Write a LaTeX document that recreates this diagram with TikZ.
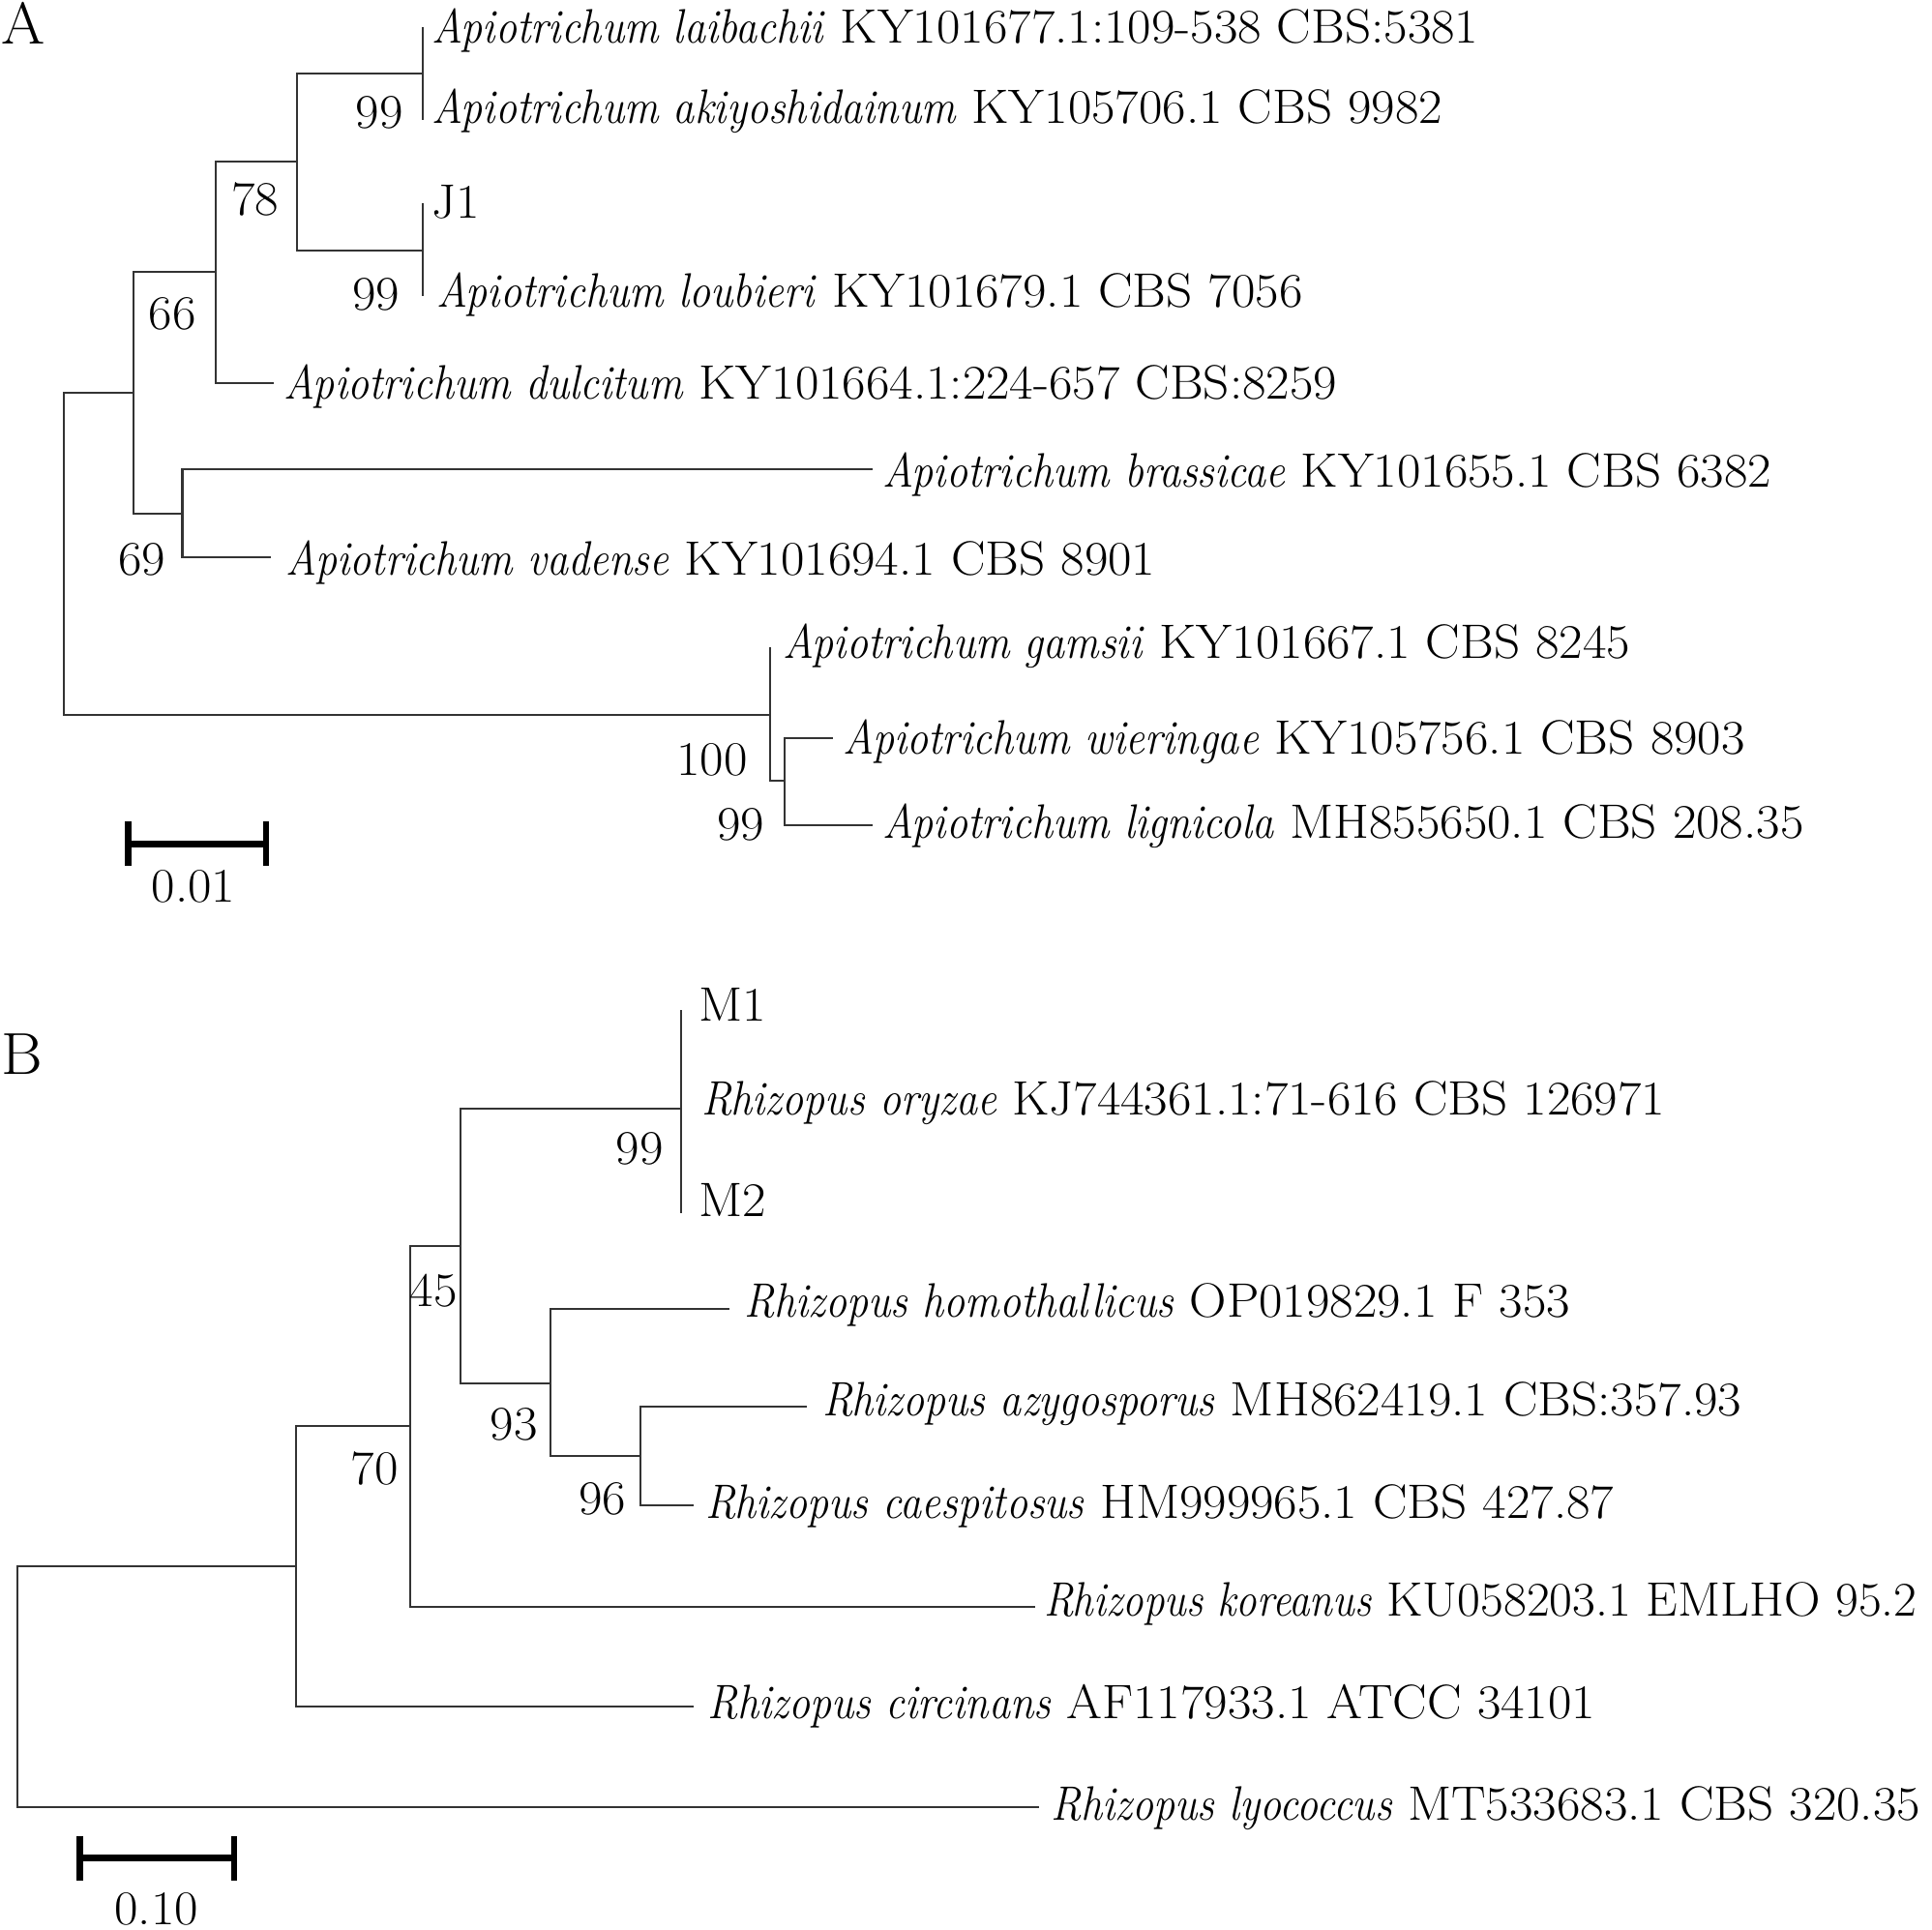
\documentclass[tikz,border=0pt]{standalone}
\usepackage{graphicx}
\usepackage{fontspec}
\setmainfont{lmroman17-regular.otf}[
  UprightFeatures={FakeStretch=1.065},
  ItalicFont=lmroman12-italic.otf,
  ItalicFeatures={FakeStretch=0.885}]
\newcommand\lblfont{\fontsize{19.6}{23}\selectfont}
\begin{document}
\begin{tikzpicture}[x=0.5pt,y=-0.5pt,
  br/.style={line width=0.8pt, black!80},
  sbar/.style={line width=2.6pt, black},
  lab/.style={anchor=base west, inner sep=0pt, font=\lblfont},
  sup/.style={anchor=base, inner sep=0pt, font=\lblfont},
  panel/.style={anchor=base, inner sep=0pt, font=\fontsize{24}{28}\selectfont}]
\useasboundingbox (0,0) rectangle (1568,1566);
% ---------------- Panel A ----------------
\node[panel] (PA) at (19,36) {A};
\coordinate (t1) at (343,22);
\coordinate (t2) at (343,97);
\coordinate (nA1) at (343,60);
\coordinate (t3) at (343,165);
\coordinate (t4) at (343,240);
\coordinate (nA2) at (343,203);
\coordinate (n78) at (241,131);
\coordinate (t5) at (222,311);
\coordinate (n66) at (175,221);
\coordinate (t6) at (708,381);
\coordinate (t7) at (220,452);
\coordinate (n69) at (148,417);
\coordinate (nA3) at (108,319);
\coordinate (t8) at (625,525);
\coordinate (t9) at (676,599);
\coordinate (t10) at (708,670);
\coordinate (n99b) at (637,634);
\coordinate (n100) at (625,580);
\coordinate (rootA) at (52,450);
\draw[br] (t1) -- (t2);
\draw[br] (t3) -- (t4);
\draw[br] (nA1) -| (n78);
\draw[br] (nA2) -| (n78);
\draw[br] (n78) -| (n66);
\draw[br] (t5) -| (n66);
\draw[br] (n66) -| (nA3);
\draw[br] (t6) -| (n69);
\draw[br] (t7) -| (n69);
\draw[br] (n69) -| (nA3);
\draw[br] (nA3) -| (rootA);
\draw[br] (t8) -- (n100);
\draw[br] (t9) -| (n99b);
\draw[br] (t10) -| (n99b);
\draw[br] (n99b) -| (n100);
\draw[br] (n100) -| (rootA);
\node[lab] (L1) at (350,35) {\textit{Apiotrichum laibachii} KY101677.1:109-538 CBS:5381};
\node[lab] (L2) at (350,100) {\textit{Apiotrichum akiyoshidainum} KY105706.1 CBS 9982};
\node[lab] (L3) at (350,177) {J1};
\node[lab] (L4) at (354,249) {\textit{Apiotrichum loubieri} KY101679.1 CBS 7056};
\node[lab] (L5) at (230,324) {\textit{Apiotrichum dulcitum} KY101664.1:224-657 CBS:8259};
\node[lab] (L6) at (716,395) {\textit{Apiotrichum brassicae} KY101655.1 CBS 6382};
\node[lab] (L7) at (232,467) {\textit{Apiotrichum vadense} KY101694.1 CBS 8901};
\node[lab] (L8) at (635,534) {\textit{Apiotrichum gamsii} KY101667.1 CBS 8245};
\node[lab] (L9) at (684,612) {\textit{Apiotrichum wieringae} KY105756.1 CBS 8903};
\node[lab] (L10) at (716,680) {\textit{Apiotrichum lignicola} MH855650.1 CBS 208.35};
\node[sup] (s1) at (308,104) {99};
\node[sup] (s2) at (207,175) {78};
\node[sup] (s3) at (305,252) {99};
\node[sup] (s4) at (140,267) {66};
\node[sup] (s5) at (115,467) {69};
\node[sup] (s6) at (578,629) {100};
\node[sup] (s7) at (601,682) {99};
\coordinate (sa1) at (104,685);
\coordinate (sa2) at (216,685);
\draw[sbar] (sa1) -- (sa2);
\draw[sbar] ([yshift=9]sa1) -- ([yshift=-9]sa1);
\draw[sbar] ([yshift=9]sa2) -- ([yshift=-9]sa2);
\node[sup] (sca) at (157,732) {0.01};
% ---------------- Panel B ----------------
\node[panel] (PB) at (18,872) {B};
\coordinate (tM1) at (553,820);
\coordinate (tM2) at (553,985);
\coordinate (nB99) at (553,900);
\coordinate (n45) at (374,1011);
\coordinate (n93) at (447,1123);
\coordinate (tHom) at (592,1062);
\coordinate (n96) at (520,1182);
\coordinate (tAzy) at (655,1142);
\coordinate (tCae) at (563,1222);
\coordinate (n70) at (333,1157);
\coordinate (tKor) at (840,1304);
\coordinate (nB2) at (240,1271);
\coordinate (tCir) at (563,1385);
\coordinate (rootB) at (14,1369);
\coordinate (tLyo) at (843,1467);
\draw[br] (tM1) -- (tM2);
\draw[br] (nB99) -| (n45);
\draw[br] (tHom) -| (n93);
\draw[br] (tAzy) -| (n96);
\draw[br] (tCae) -| (n96);
\draw[br] (n96) -| (n93);
\draw[br] (n93) -| (n45);
\draw[br] (n45) -| (n70);
\draw[br] (tKor) -| (n70);
\draw[br] (n70) -| (nB2);
\draw[br] (tCir) -| (nB2);
\draw[br] (nB2) -| (rootB);
\draw[br] (tLyo) -| (rootB);
\node[lab] (M1) at (567,829) {M1};
\node[lab] (Ory) at (569,905) {\textit{Rhizopus oryzae} KJ744361.1:71-616 CBS 126971};
\node[lab] (M2) at (567,987) {M2};
\node[lab] (Hom) at (604,1069) {\textit{Rhizopus homothallicus} OP019829.1 F 353};
\node[lab] (Azy) at (667,1149) {\textit{Rhizopus azygosporus} MH862419.1 CBS:357.93};
\node[lab] (Cae) at (572,1232) {\textit{Rhizopus caespitosus} HM999965.1 CBS 427.87};
\node[lab] (Kor) at (847,1312) {\scalebox{0.975}[1]{\textit{Rhizopus koreanus} KU058203.1 EMLHO 95.2}};
\node[lab] (Cir) at (574,1395) {\textit{Rhizopus circinans} AF117933.1 ATCC 34101};
\node[lab] (Lyo) at (853,1477) {\textit{Rhizopus lyococcus} MT533683.1 CBS 320.35};
\node[sup] (b1) at (519,945) {99};
\node[sup] (b2) at (352,1060) {45};
\node[sup] (b3) at (417,1169) {93};
\node[sup] (b4) at (489,1229) {96};
\node[sup] (b5) at (304,1205) {70};
\coordinate (sb1) at (65,1508);
\coordinate (sb2) at (190,1508);
\draw[sbar] (sb1) -- (sb2);
\draw[sbar] ([yshift=9]sb1) -- ([yshift=-9]sb1);
\draw[sbar] ([yshift=9]sb2) -- ([yshift=-9]sb2);
\node[sup] (scb) at (127,1562) {0.10};
\end{tikzpicture}
\end{document}
